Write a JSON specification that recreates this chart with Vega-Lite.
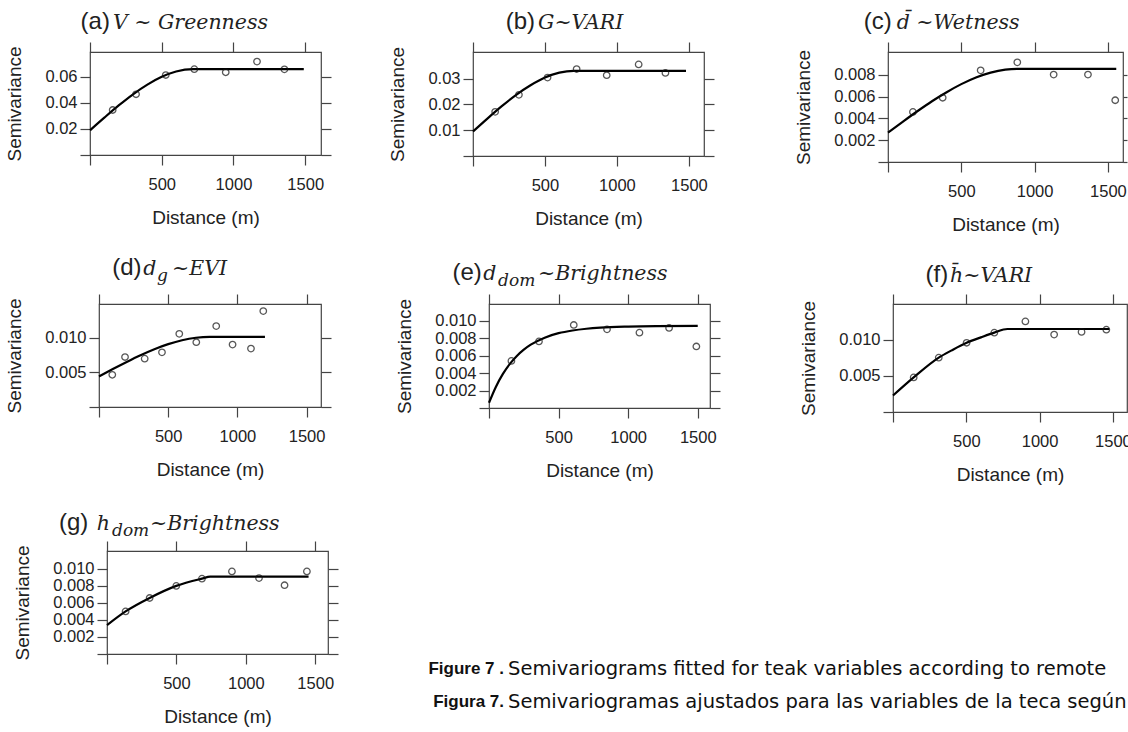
{
"$schema": "https://vega.github.io/schema/vega-lite/v6.json",
"padding": 0,
"background": "white",
"config": {
  "view": {"stroke": null},
  "font": "Liberation Sans",
  "axis": {"domain": false, "grid": false, "tickColor": "#444", "tickSize": 10, "tickWidth": 1.2, "labelFont": "Liberation Sans", "labelFontSize": 16.5, "labelColor": "#222", "titleFont": "Liberation Sans", "titleFontSize": 19, "titleFontWeight": "normal", "titleColor": "#222", "labelOverlap": false, "labelFlush": false},
  "axisBottom": {"labelPadding": 11, "titlePadding": 16},
  "axisLeft": {"labelPadding": 3, "titlePadding": 20}
},
"datasets": {
  "points": [
    {"panel":"a","distance":158,"semivariance":0.0346},{"panel":"a","distance":321,"semivariance":0.0467},{"panel":"a","distance":528,"semivariance":0.0615},{"panel":"a","distance":727,"semivariance":0.066},{"panel":"a","distance":946,"semivariance":0.0636},{"panel":"a","distance":1164,"semivariance":0.0718},{"panel":"a","distance":1355,"semivariance":0.0659},
    {"panel":"b","distance":154,"semivariance":0.0171},{"panel":"b","distance":319,"semivariance":0.0237},{"panel":"b","distance":518,"semivariance":0.0304},{"panel":"b","distance":720,"semivariance":0.0337},{"panel":"b","distance":929,"semivariance":0.0313},{"panel":"b","distance":1151,"semivariance":0.0355},{"panel":"b","distance":1337,"semivariance":0.0322},
    {"panel":"c","distance":170,"semivariance":0.0046},{"panel":"c","distance":373,"semivariance":0.0059},{"panel":"c","distance":632,"semivariance":0.00842},{"panel":"c","distance":882,"semivariance":0.00915},{"panel":"c","distance":1130,"semivariance":0.00803},{"panel":"c","distance":1364,"semivariance":0.00803},{"panel":"c","distance":1550,"semivariance":0.00567},
    {"panel":"d","distance":96,"semivariance":0.00466},{"panel":"d","distance":188,"semivariance":0.00723},{"panel":"d","distance":330,"semivariance":0.00699},{"panel":"d","distance":455,"semivariance":0.00791},{"panel":"d","distance":580,"semivariance":0.01058},{"panel":"d","distance":703,"semivariance":0.00937},{"panel":"d","distance":847,"semivariance":0.0117},{"panel":"d","distance":965,"semivariance":0.00903},{"panel":"d","distance":1098,"semivariance":0.00845},{"panel":"d","distance":1187,"semivariance":0.01388},
    {"panel":"e","distance":161,"semivariance":0.00539},{"panel":"e","distance":359,"semivariance":0.00762},{"panel":"e","distance":609,"semivariance":0.0095},{"panel":"e","distance":848,"semivariance":0.009},{"panel":"e","distance":1081,"semivariance":0.00862},{"panel":"e","distance":1294,"semivariance":0.00916},{"panel":"e","distance":1490,"semivariance":0.00704},
    {"panel":"f","distance":141,"semivariance":0.00477},{"panel":"f","distance":312,"semivariance":0.0075},{"panel":"f","distance":502,"semivariance":0.00955},{"panel":"f","distance":691,"semivariance":0.01095},{"panel":"f","distance":903,"semivariance":0.0125},{"panel":"f","distance":1099,"semivariance":0.01068},{"panel":"f","distance":1286,"semivariance":0.01105},{"panel":"f","distance":1455,"semivariance":0.01136},
    {"panel":"g","distance":134,"semivariance":0.005},{"panel":"g","distance":307,"semivariance":0.00658},{"panel":"g","distance":499,"semivariance":0.008},{"panel":"g","distance":684,"semivariance":0.00885},{"panel":"g","distance":900,"semivariance":0.0097},{"panel":"g","distance":1095,"semivariance":0.00892},{"panel":"g","distance":1279,"semivariance":0.00808},{"panel":"g","distance":1440,"semivariance":0.0097}
  ],
  "fits": [
    {"panel":"a","distance":0,"semivariance":0.019},{"panel":"a","distance":100,"semivariance":0.0287},{"panel":"a","distance":200,"semivariance":0.0381},{"panel":"a","distance":300,"semivariance":0.0467},{"panel":"a","distance":400,"semivariance":0.0541},{"panel":"a","distance":500,"semivariance":0.0601},{"panel":"a","distance":600,"semivariance":0.0642},{"panel":"a","distance":720,"semivariance":0.066},{"panel":"a","distance":1490,"semivariance":0.066},
    {"panel":"b","distance":0,"semivariance":0.0095},{"panel":"b","distance":100,"semivariance":0.0145},{"panel":"b","distance":200,"semivariance":0.0193},{"panel":"b","distance":300,"semivariance":0.0237},{"panel":"b","distance":400,"semivariance":0.0274},{"panel":"b","distance":500,"semivariance":0.0304},{"panel":"b","distance":600,"semivariance":0.0323},{"panel":"b","distance":700,"semivariance":0.033},{"panel":"b","distance":1480,"semivariance":0.033},
    {"panel":"c","distance":0,"semivariance":0.0027},{"panel":"c","distance":100,"semivariance":0.00369},{"panel":"c","distance":200,"semivariance":0.00466},{"panel":"c","distance":300,"semivariance":0.00558},{"panel":"c","distance":400,"semivariance":0.00641},{"panel":"c","distance":500,"semivariance":0.00715},{"panel":"c","distance":600,"semivariance":0.00776},{"panel":"c","distance":700,"semivariance":0.00821},{"panel":"c","distance":800,"semivariance":0.00848},{"panel":"c","distance":880,"semivariance":0.00855},{"panel":"c","distance":1557,"semivariance":0.00855},
    {"panel":"d","distance":0,"semivariance":0.00442},{"panel":"d","distance":100,"semivariance":0.00549},{"panel":"d","distance":200,"semivariance":0.00652},{"panel":"d","distance":300,"semivariance":0.00749},{"panel":"d","distance":400,"semivariance":0.00836},{"panel":"d","distance":500,"semivariance":0.00909},{"panel":"d","distance":600,"semivariance":0.00966},{"panel":"d","distance":700,"semivariance":0.01002},{"panel":"d","distance":800,"semivariance":0.01015},{"panel":"d","distance":1199,"semivariance":0.01015},
    {"panel":"e","distance":0,"semivariance":0.0006},{"panel":"e","distance":50,"semivariance":0.00244},{"panel":"e","distance":100,"semivariance":0.0039},{"panel":"e","distance":150,"semivariance":0.00505},{"panel":"e","distance":200,"semivariance":0.00596},{"panel":"e","distance":250,"semivariance":0.00668},{"panel":"e","distance":300,"semivariance":0.00725},{"panel":"e","distance":400,"semivariance":0.00805},{"panel":"e","distance":500,"semivariance":0.00856},{"panel":"e","distance":600,"semivariance":0.00887},{"panel":"e","distance":700,"semivariance":0.00907},{"panel":"e","distance":800,"semivariance":0.0092},{"panel":"e","distance":1000,"semivariance":0.00932},{"panel":"e","distance":1200,"semivariance":0.00937},{"panel":"e","distance":1500,"semivariance":0.00939},
    {"panel":"f","distance":0,"semivariance":0.00227},{"panel":"f","distance":141,"semivariance":0.00477},{"panel":"f","distance":312,"semivariance":0.0075},{"panel":"f","distance":400,"semivariance":0.0085},{"panel":"f","distance":502,"semivariance":0.00955},{"panel":"f","distance":600,"semivariance":0.0103},{"panel":"f","distance":691,"semivariance":0.01095},{"panel":"f","distance":780,"semivariance":0.01145},{"panel":"f","distance":1475,"semivariance":0.01145},
    {"panel":"g","distance":0,"semivariance":0.00339},{"panel":"g","distance":134,"semivariance":0.005},{"panel":"g","distance":307,"semivariance":0.00658},{"panel":"g","distance":499,"semivariance":0.008},{"panel":"g","distance":684,"semivariance":0.00885},{"panel":"g","distance":744,"semivariance":0.00908},{"panel":"g","distance":1452,"semivariance":0.00908}
  ],
  "titles": [
    {"panel":"a","part":"tag","text":"(a)"},{"panel":"a","part":"main","text":"V ~ Greenness"},
    {"panel":"b","part":"tag","text":"(b)"},{"panel":"b","part":"main","text":"G~VARI"},
    {"panel":"c","part":"tag","text":"(c)"},{"panel":"c","part":"main","text":"d\u0304 ~Wetness"},
    {"panel":"d","part":"tag","text":"(d)"},{"panel":"d","part":"main","text":"d"},{"panel":"d","part":"sub","text":"g"},{"panel":"d","part":"rest","text":"~EVI"},
    {"panel":"e","part":"tag","text":"(e)"},{"panel":"e","part":"main","text":"d"},{"panel":"e","part":"sub","text":"dom"},{"panel":"e","part":"rest","text":"~Brightness"},
    {"panel":"f","part":"tag","text":"(f)"},{"panel":"f","part":"main","text":"h\u0304~VARI"},
    {"panel":"g","part":"tag","text":"(g)"},{"panel":"g","part":"main","text":"h"},{"panel":"g","part":"sub","text":"dom"},{"panel":"g","part":"rest","text":"~Brightness"}
  ],
  "caption": [
    {"line":1,"label":"Figure 7 .","text":"Semivariograms fitted for teak variables according to remote"},
    {"line":2,"label":"Figura 7.","text":"Semivariogramas ajustados para las variables de la teca según"}
  ]
},
"vconcat": [
  {"width":1,"height":52,"data":{"values":[]},"mark":"point"},
  {"hconcat": [
    {"width":90,"height":1,"data":{"values":[]},"mark":"point"},
    {"width":231,"height":103,"view":{"stroke":"#444","strokeWidth":1.2},
     "layer":[
      {"data":{"name":"fits"},"transform":[{"filter":"datum.panel=='a'"}],"mark":{"type":"line","color":"#000","strokeWidth":2.2,"interpolate":"monotone"},
       "encoding":{"x":{"field":"distance","type":"quantitative","scale":{"domain":[0,1610],"nice":false,"zero":false},"axis":{"orient":"bottom","values":[0,500,1000,1500],"format":"d","labelExpr":"datum.value==0?'':datum.label","title":"Distance (m)"}},
                   "y":{"field":"semivariance","type":"quantitative","scale":{"domain":[0,0.0792],"nice":false},"axis":{"orient":"left","values":[0,0.02,0.04,0.06],"format":".2f","labelExpr":"datum.value==0?'':datum.label","title":"Semivariance"}}}},
      {"data":{"name":"points"},"transform":[{"filter":"datum.panel=='a'"}],"mark":{"type":"point","shape":"circle","filled":false,"color":"#111","size":42,"strokeWidth":1.3},
       "encoding":{"x":{"field":"distance","type":"quantitative","scale":{"domain":[0,1610],"nice":false,"zero":false},"axis":{"orient":"top","values":[0,500,1000,1500],"labels":false,"title":null}},
                   "y":{"field":"semivariance","type":"quantitative","scale":{"domain":[0,0.0792],"nice":false},"axis":{"orient":"right","values":[0,0.02,0.04,0.06],"labels":false,"title":null}}}},
      {"data":{"name":"titles"},"transform":[{"filter":"datum.panel=='a' && datum.part=='tag'"}],"mark":{"type":"text","font":"Liberation Sans","fontSize":24,"align":"right","baseline":"alphabetic","color":"#222"},
       "encoding":{"x":{"datum":139,"type":"quantitative","axis":null,"scale":{"domain":[0,1610],"nice":false,"zero":false}},"y":{"datum":0.0969,"type":"quantitative","axis":null,"scale":{"domain":[0,0.0792],"nice":false}},"text":{"field":"text"}}},
      {"data":{"name":"titles"},"transform":[{"filter":"datum.panel=='a' && datum.part=='main'"}],"mark":{"type":"text","font":"DejaVu Serif","fontStyle":"italic","fontSize":20.5,"align":"left","baseline":"alphabetic","color":"#222"},
       "encoding":{"x":{"datum":160,"type":"quantitative","axis":null,"scale":{"domain":[0,1610],"nice":false,"zero":false}},"y":{"datum":0.0969,"type":"quantitative","axis":null,"scale":{"domain":[0,0.0792],"nice":false}},"text":{"field":"text"}}}
     ],
     "resolve":{"axis":{"x":"independent","y":"independent"}}},
    {"width":152,"height":1,"data":{"values":[]},"mark":"point"},
    {"width":231,"height":104,"view":{"stroke":"#444","strokeWidth":1.2},
     "layer":[
      {"data":{"name":"fits"},"transform":[{"filter":"datum.panel=='b'"}],"mark":{"type":"line","color":"#000","strokeWidth":2.2,"interpolate":"monotone"},
       "encoding":{"x":{"field":"distance","type":"quantitative","scale":{"domain":[0,1605],"nice":false,"zero":false},"axis":{"orient":"bottom","values":[0,500,1000,1500],"format":"d","labelExpr":"datum.value==0?'':datum.label","title":"Distance (m)"}},
                   "y":{"field":"semivariance","type":"quantitative","scale":{"domain":[0,0.0403],"nice":false},"axis":{"orient":"left","values":[0,0.01,0.02,0.03],"format":".2f","labelExpr":"datum.value==0?'':datum.label","title":"Semivariance"}}}},
      {"data":{"name":"points"},"transform":[{"filter":"datum.panel=='b'"}],"mark":{"type":"point","shape":"circle","filled":false,"color":"#111","size":42,"strokeWidth":1.3},
       "encoding":{"x":{"field":"distance","type":"quantitative","scale":{"domain":[0,1605],"nice":false,"zero":false},"axis":{"orient":"top","values":[0,500,1000,1500],"labels":false,"title":null}},
                   "y":{"field":"semivariance","type":"quantitative","scale":{"domain":[0,0.0403],"nice":false},"axis":{"orient":"right","values":[0,0.01,0.02,0.03],"labels":false,"title":null}}}},
      {"data":{"name":"titles"},"transform":[{"filter":"datum.panel=='b' && datum.part=='tag'"}],"mark":{"type":"text","font":"Liberation Sans","fontSize":24,"align":"right","baseline":"alphabetic","color":"#222"},
       "encoding":{"x":{"datum":431,"type":"quantitative","axis":null,"scale":{"domain":[0,1605],"nice":false,"zero":false}},"y":{"datum":0.0492,"type":"quantitative","axis":null,"scale":{"domain":[0,0.0403],"nice":false}},"text":{"field":"text"}}},
      {"data":{"name":"titles"},"transform":[{"filter":"datum.panel=='b' && datum.part=='main'"}],"mark":{"type":"text","font":"DejaVu Serif","fontStyle":"italic","fontSize":20.5,"align":"left","baseline":"alphabetic","color":"#222"},
       "encoding":{"x":{"datum":452,"type":"quantitative","axis":null,"scale":{"domain":[0,1605],"nice":false,"zero":false}},"y":{"datum":0.0492,"type":"quantitative","axis":null,"scale":{"domain":[0,0.0403],"nice":false}},"text":{"field":"text"}}}
     ],
     "resolve":{"axis":{"x":"independent","y":"independent"}}},
    {"width":184,"height":1,"data":{"values":[]},"mark":"point"},
    {"width":235,"height":110,"view":{"stroke":"#444","strokeWidth":1.2},
     "layer":[
      {"data":{"name":"fits"},"transform":[{"filter":"datum.panel=='c'"}],"mark":{"type":"line","color":"#000","strokeWidth":2.2,"interpolate":"monotone"},
       "encoding":{"x":{"field":"distance","type":"quantitative","scale":{"domain":[0,1603],"nice":false,"zero":false},"axis":{"orient":"bottom","values":[0,500,1000,1500],"format":"d","labelExpr":"datum.value==0?'':datum.label","title":"Distance (m)"}},
                   "y":{"field":"semivariance","type":"quantitative","scale":{"domain":[0,0.0101],"nice":false},"axis":{"orient":"left","values":[0,0.002,0.004,0.006,0.008],"format":".3f","labelExpr":"datum.value==0?'':datum.label","title":"Semivariance"}}}},
      {"data":{"name":"points"},"transform":[{"filter":"datum.panel=='c'"}],"mark":{"type":"point","shape":"circle","filled":false,"color":"#111","size":42,"strokeWidth":1.3},
       "encoding":{"x":{"field":"distance","type":"quantitative","scale":{"domain":[0,1603],"nice":false,"zero":false},"axis":{"orient":"top","values":[0,500,1000,1500],"labels":false,"title":null}},
                   "y":{"field":"semivariance","type":"quantitative","scale":{"domain":[0,0.0101],"nice":false},"axis":{"orient":"right","values":[0,0.002,0.004,0.006,0.008],"labels":false,"title":null,"tickSize":4}}}},
      {"data":{"name":"titles"},"transform":[{"filter":"datum.panel=='c' && datum.part=='tag'"}],"mark":{"type":"text","font":"Liberation Sans","fontSize":24,"align":"right","baseline":"alphabetic","color":"#222"},
       "encoding":{"x":{"datum":25,"type":"quantitative","axis":null,"scale":{"domain":[0,1603],"nice":false,"zero":false}},"y":{"datum":0.01221,"type":"quantitative","axis":null,"scale":{"domain":[0,0.0101],"nice":false}},"text":{"field":"text"}}},
      {"data":{"name":"titles"},"transform":[{"filter":"datum.panel=='c' && datum.part=='main'"}],"mark":{"type":"text","font":"DejaVu Serif","fontStyle":"italic","fontSize":20.5,"align":"left","baseline":"alphabetic","color":"#222"},
       "encoding":{"x":{"datum":59,"type":"quantitative","axis":null,"scale":{"domain":[0,1603],"nice":false,"zero":false}},"y":{"datum":0.01221,"type":"quantitative","axis":null,"scale":{"domain":[0,0.0101],"nice":false}},"text":{"field":"text"}}}
     ],
     "resolve":{"axis":{"x":"independent","y":"independent"}}}
  ], "spacing": 0, "bounds": "flush"},
  {"width":1,"height":252,"data":{"values":[]},"mark":"point"},
  {"hconcat": [
    {"width":99,"height":1,"data":{"values":[]},"mark":"point"},
    {"width":222,"height":103,"view":{"stroke":"#444","strokeWidth":1.2},
     "layer":[
      {"data":{"name":"fits"},"transform":[{"filter":"datum.panel=='d'"}],"mark":{"type":"line","color":"#000","strokeWidth":2.2,"interpolate":"monotone"},
       "encoding":{"x":{"field":"distance","type":"quantitative","scale":{"domain":[0,1604],"nice":false,"zero":false},"axis":{"orient":"bottom","values":[0,500,1000,1500],"format":"d","labelExpr":"datum.value==0?'':datum.label","title":"Distance (m)"}},
                   "y":{"field":"semivariance","type":"quantitative","scale":{"domain":[0,0.0149],"nice":false},"axis":{"orient":"left","values":[0,0.005,0.01],"format":".3f","labelExpr":"datum.value==0?'':datum.label","title":"Semivariance"}}}},
      {"data":{"name":"points"},"transform":[{"filter":"datum.panel=='d'"}],"mark":{"type":"point","shape":"circle","filled":false,"color":"#111","size":42,"strokeWidth":1.3},
       "encoding":{"x":{"field":"distance","type":"quantitative","scale":{"domain":[0,1604],"nice":false,"zero":false},"axis":{"orient":"top","values":[0,500,1000,1500],"labels":false,"title":null}},
                   "y":{"field":"semivariance","type":"quantitative","scale":{"domain":[0,0.0149],"nice":false},"axis":{"orient":"right","values":[0,0.005,0.01],"labels":false,"title":null}}}},
      {"data":{"name":"titles"},"transform":[{"filter":"datum.panel=='d' && datum.part=='tag'"}],"mark":{"type":"text","font":"Liberation Sans","fontSize":24,"align":"right","baseline":"alphabetic","color":"#222"},
       "encoding":{"x":{"datum":308,"type":"quantitative","axis":null,"scale":{"domain":[0,1604],"nice":false,"zero":false}},"y":{"datum":0.0191,"type":"quantitative","axis":null,"scale":{"domain":[0,0.0149],"nice":false}},"text":{"field":"text"}}},
      {"data":{"name":"titles"},"transform":[{"filter":"datum.panel=='d' && datum.part=='main'"}],"mark":{"type":"text","font":"DejaVu Serif","fontStyle":"italic","fontSize":20.5,"align":"left","baseline":"alphabetic","color":"#222"},
       "encoding":{"x":{"datum":320,"type":"quantitative","axis":null,"scale":{"domain":[0,1604],"nice":false,"zero":false}},"y":{"datum":0.0191,"type":"quantitative","axis":null,"scale":{"domain":[0,0.0149],"nice":false}},"text":{"field":"text"}}},
      {"data":{"name":"titles"},"transform":[{"filter":"datum.panel=='d' && datum.part=='sub'"}],"mark":{"type":"text","font":"DejaVu Serif","fontStyle":"italic","fontSize":17,"dy":6,"align":"left","baseline":"alphabetic","color":"#222"},
       "encoding":{"x":{"datum":419,"type":"quantitative","axis":null,"scale":{"domain":[0,1604],"nice":false,"zero":false}},"y":{"datum":0.0191,"type":"quantitative","axis":null,"scale":{"domain":[0,0.0149],"nice":false}},"text":{"field":"text"}}},
      {"data":{"name":"titles"},"transform":[{"filter":"datum.panel=='d' && datum.part=='rest'"}],"mark":{"type":"text","font":"DejaVu Serif","fontStyle":"italic","fontSize":20.5,"align":"left","baseline":"alphabetic","color":"#222"},
       "encoding":{"x":{"datum":528,"type":"quantitative","axis":null,"scale":{"domain":[0,1604],"nice":false,"zero":false}},"y":{"datum":0.0191,"type":"quantitative","axis":null,"scale":{"domain":[0,0.0149],"nice":false}},"text":{"field":"text"}}}
     ],
     "resolve":{"axis":{"x":"independent","y":"independent"}}},
    {"width":168,"height":1,"data":{"values":[]},"mark":"point"},
    {"width":221,"height":104,"view":{"stroke":"#444","strokeWidth":1.2},
     "layer":[
      {"data":{"name":"fits"},"transform":[{"filter":"datum.panel=='e'"}],"mark":{"type":"line","color":"#000","strokeWidth":2.2,"interpolate":"monotone"},
       "encoding":{"x":{"field":"distance","type":"quantitative","scale":{"domain":[0,1588],"nice":false,"zero":false},"axis":{"orient":"bottom","values":[0,500,1000,1500],"format":"d","labelExpr":"datum.value==0?'':datum.label","title":"Distance (m)"}},
                   "y":{"field":"semivariance","type":"quantitative","scale":{"domain":[0,0.0119],"nice":false},"axis":{"orient":"left","values":[0,0.002,0.004,0.006,0.008,0.01],"format":".3f","labelExpr":"datum.value==0?'':datum.label","title":"Semivariance"}}}},
      {"data":{"name":"points"},"transform":[{"filter":"datum.panel=='e'"}],"mark":{"type":"point","shape":"circle","filled":false,"color":"#111","size":42,"strokeWidth":1.3},
       "encoding":{"x":{"field":"distance","type":"quantitative","scale":{"domain":[0,1588],"nice":false,"zero":false},"axis":{"orient":"top","values":[0,500,1000,1500],"labels":false,"title":null}},
                   "y":{"field":"semivariance","type":"quantitative","scale":{"domain":[0,0.0119],"nice":false},"axis":{"orient":"right","values":[0,0.002,0.004,0.006,0.008,0.01],"labels":false,"title":null}}}},
      {"data":{"name":"titles"},"transform":[{"filter":"datum.panel=='e' && datum.part=='tag'"}],"mark":{"type":"text","font":"Liberation Sans","fontSize":24,"align":"right","baseline":"alphabetic","color":"#222"},
       "encoding":{"x":{"datum":-52,"type":"quantitative","axis":null,"scale":{"domain":[0,1588],"nice":false,"zero":false}},"y":{"datum":0.01465,"type":"quantitative","axis":null,"scale":{"domain":[0,0.0119],"nice":false}},"text":{"field":"text"}}},
      {"data":{"name":"titles"},"transform":[{"filter":"datum.panel=='e' && datum.part=='main'"}],"mark":{"type":"text","font":"DejaVu Serif","fontStyle":"italic","fontSize":20.5,"align":"left","baseline":"alphabetic","color":"#222"},
       "encoding":{"x":{"datum":-41,"type":"quantitative","axis":null,"scale":{"domain":[0,1588],"nice":false,"zero":false}},"y":{"datum":0.01465,"type":"quantitative","axis":null,"scale":{"domain":[0,0.0119],"nice":false}},"text":{"field":"text"}}},
      {"data":{"name":"titles"},"transform":[{"filter":"datum.panel=='e' && datum.part=='sub'"}],"mark":{"type":"text","font":"DejaVu Serif","fontStyle":"italic","fontSize":17,"dy":6,"align":"left","baseline":"alphabetic","color":"#222"},
       "encoding":{"x":{"datum":65,"type":"quantitative","axis":null,"scale":{"domain":[0,1588],"nice":false,"zero":false}},"y":{"datum":0.01465,"type":"quantitative","axis":null,"scale":{"domain":[0,0.0119],"nice":false}},"text":{"field":"text"}}},
      {"data":{"name":"titles"},"transform":[{"filter":"datum.panel=='e' && datum.part=='rest'"}],"mark":{"type":"text","font":"DejaVu Serif","fontStyle":"italic","fontSize":20.5,"align":"left","baseline":"alphabetic","color":"#222"},
       "encoding":{"x":{"datum":352,"type":"quantitative","axis":null,"scale":{"domain":[0,1588],"nice":false,"zero":false}},"y":{"datum":0.01465,"type":"quantitative","axis":null,"scale":{"domain":[0,0.0119],"nice":false}},"text":{"field":"text"}}}
     ],
     "resolve":{"axis":{"x":"independent","y":"independent"}}},
    {"width":183,"height":1,"data":{"values":[]},"mark":"point"},
    {"width":234,"height":108,"view":{"stroke":"#444","strokeWidth":1.2},
     "layer":[
      {"data":{"name":"fits"},"transform":[{"filter":"datum.panel=='f'"}],"mark":{"type":"line","color":"#000","strokeWidth":2.2,"interpolate":"monotone"},
       "encoding":{"x":{"field":"distance","type":"quantitative","scale":{"domain":[0,1596],"nice":false,"zero":false},"axis":{"orient":"bottom","values":[0,500,1000,1500],"format":"d","labelExpr":"datum.value==0?'':datum.label","title":"Distance (m)"}},
                   "y":{"field":"semivariance","type":"quantitative","scale":{"domain":[0,0.0149],"nice":false},"axis":{"orient":"left","values":[0,0.005,0.01],"format":".3f","labelExpr":"datum.value==0?'':datum.label","title":"Semivariance"}}}},
      {"data":{"name":"points"},"transform":[{"filter":"datum.panel=='f'"}],"mark":{"type":"point","shape":"circle","filled":false,"color":"#111","size":42,"strokeWidth":1.3},
       "encoding":{"x":{"field":"distance","type":"quantitative","scale":{"domain":[0,1596],"nice":false,"zero":false},"axis":{"orient":"top","values":[0,500,1000,1500],"labels":false,"title":null}},
                   "y":{"field":"semivariance","type":"quantitative","scale":{"domain":[0,0.0149],"nice":false},"axis":{"orient":"right","values":[0,0.005,0.01],"labels":false,"ticks":false,"title":null}}}},
      {"data":{"name":"titles"},"transform":[{"filter":"datum.panel=='f' && datum.part=='tag'"}],"mark":{"type":"text","font":"Liberation Sans","fontSize":24,"align":"right","baseline":"alphabetic","color":"#222"},
       "encoding":{"x":{"datum":377,"type":"quantitative","axis":null,"scale":{"domain":[0,1596],"nice":false,"zero":false}},"y":{"datum":0.0179,"type":"quantitative","axis":null,"scale":{"domain":[0,0.0149],"nice":false}},"text":{"field":"text"}}},
      {"data":{"name":"titles"},"transform":[{"filter":"datum.panel=='f' && datum.part=='main'"}],"mark":{"type":"text","font":"DejaVu Serif","fontStyle":"italic","fontSize":20.5,"align":"left","baseline":"alphabetic","color":"#222"},
       "encoding":{"x":{"datum":389,"type":"quantitative","axis":null,"scale":{"domain":[0,1596],"nice":false,"zero":false}},"y":{"datum":0.0179,"type":"quantitative","axis":null,"scale":{"domain":[0,0.0149],"nice":false}},"text":{"field":"text"}}}
     ],
     "resolve":{"axis":{"x":"independent","y":"independent"}}}
  ], "spacing": 0, "bounds": "flush"},
  {"width":1,"height":247,"data":{"values":[]},"mark":"point"},
  {"hconcat": [
    {"width":107,"height":1,"data":{"values":[]},"mark":"point"},
    {"width":221,"height":103,"view":{"stroke":"#444","strokeWidth":1.2},
     "layer":[
      {"data":{"name":"fits"},"transform":[{"filter":"datum.panel=='g'"}],"mark":{"type":"line","color":"#000","strokeWidth":2.2,"interpolate":"monotone"},
       "encoding":{"x":{"field":"distance","type":"quantitative","scale":{"domain":[0,1592],"nice":false,"zero":false},"axis":{"orient":"bottom","values":[0,500,1000,1500],"format":"d","labelExpr":"datum.value==0?'':datum.label","title":"Distance (m)"}},
                   "y":{"field":"semivariance","type":"quantitative","scale":{"domain":[0,0.0121],"nice":false},"axis":{"orient":"left","values":[0,0.002,0.004,0.006,0.008,0.01],"format":".3f","labelExpr":"datum.value==0?'':datum.label","title":"Semivariance"}}}},
      {"data":{"name":"points"},"transform":[{"filter":"datum.panel=='g'"}],"mark":{"type":"point","shape":"circle","filled":false,"color":"#111","size":42,"strokeWidth":1.3},
       "encoding":{"x":{"field":"distance","type":"quantitative","scale":{"domain":[0,1592],"nice":false,"zero":false},"axis":{"orient":"top","values":[0,500,1000,1500],"labels":false,"title":null}},
                   "y":{"field":"semivariance","type":"quantitative","scale":{"domain":[0,0.0121],"nice":false},"axis":{"orient":"right","values":[0,0.002,0.004,0.006,0.008,0.01],"labels":false,"title":null}}}},
      {"data":{"name":"titles"},"transform":[{"filter":"datum.panel=='g' && datum.part=='tag'"}],"mark":{"type":"text","font":"Liberation Sans","fontSize":24,"align":"right","baseline":"alphabetic","color":"#222"},
       "encoding":{"x":{"datum":-135,"type":"quantitative","axis":null,"scale":{"domain":[0,1592],"nice":false,"zero":false}},"y":{"datum":0.01457,"type":"quantitative","axis":null,"scale":{"domain":[0,0.0121],"nice":false}},"text":{"field":"text"}}},
      {"data":{"name":"titles"},"transform":[{"filter":"datum.panel=='g' && datum.part=='main'"}],"mark":{"type":"text","font":"DejaVu Serif","fontStyle":"italic","fontSize":20.5,"align":"left","baseline":"alphabetic","color":"#222"},
       "encoding":{"x":{"datum":-74,"type":"quantitative","axis":null,"scale":{"domain":[0,1592],"nice":false,"zero":false}},"y":{"datum":0.01457,"type":"quantitative","axis":null,"scale":{"domain":[0,0.0121],"nice":false}},"text":{"field":"text"}}},
      {"data":{"name":"titles"},"transform":[{"filter":"datum.panel=='g' && datum.part=='sub'"}],"mark":{"type":"text","font":"DejaVu Serif","fontStyle":"italic","fontSize":17,"dy":6,"align":"left","baseline":"alphabetic","color":"#222"},
       "encoding":{"x":{"datum":36,"type":"quantitative","axis":null,"scale":{"domain":[0,1592],"nice":false,"zero":false}},"y":{"datum":0.01457,"type":"quantitative","axis":null,"scale":{"domain":[0,0.0121],"nice":false}},"text":{"field":"text"}}},
      {"data":{"name":"titles"},"transform":[{"filter":"datum.panel=='g' && datum.part=='rest'"}],"mark":{"type":"text","font":"DejaVu Serif","fontStyle":"italic","fontSize":20.5,"align":"left","baseline":"alphabetic","color":"#222"},
       "encoding":{"x":{"datum":310,"type":"quantitative","axis":null,"scale":{"domain":[0,1592],"nice":false,"zero":false}},"y":{"datum":0.01457,"type":"quantitative","axis":null,"scale":{"domain":[0,0.0121],"nice":false}},"text":{"field":"text"}}}
     ],
     "resolve":{"axis":{"x":"independent","y":"independent"}}}
  ], "spacing": 0, "bounds": "flush"},
  {"width":1,"height":101,"data":{"values":[]},"mark":"point"},
  {"hconcat": [
    {"width":508,"height":1,"data":{"values":[]},"mark":"point"},
    {"width":612,"height":66,"data":{"name":"caption"},
     "layer":[
      {"mark":{"type":"text","font":"Liberation Sans","fontWeight":"bold","fontSize":17,"align":"right","baseline":"middle","dx":-4,"color":"#111"},
       "encoding":{"x":{"datum":0,"type":"quantitative","axis":null,"scale":{"domain":[0,1]}},"y":{"field":"line","type":"ordinal","axis":null},"text":{"field":"label"}}},
      {"mark":{"type":"text","font":"DejaVu Sans","fontSize":19.5,"align":"left","baseline":"middle","limit":619,"ellipsis":" ","color":"#111"},
       "encoding":{"x":{"datum":0,"type":"quantitative","axis":null,"scale":{"domain":[0,1]}},"y":{"field":"line","type":"ordinal","axis":null},"text":{"field":"text"}}}
     ]}
  ], "spacing": 0, "bounds": "flush"}
],
"spacing": 0,
"bounds": "flush"
}
